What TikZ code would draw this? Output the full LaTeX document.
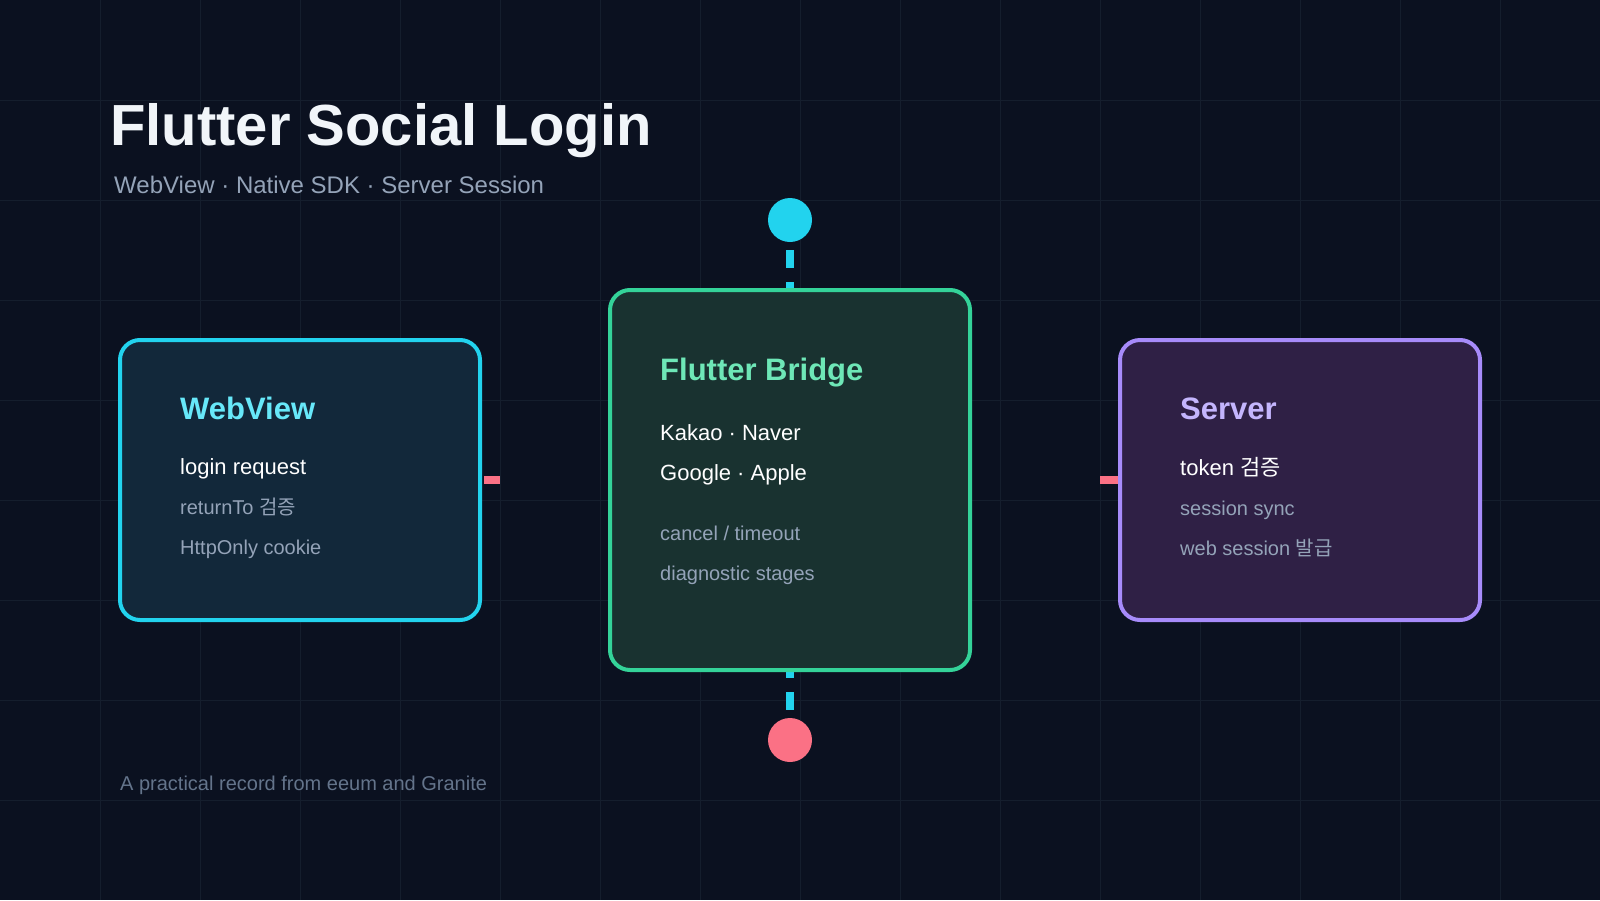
\documentclass[tikz,border=0pt]{standalone}
\usepackage{fontspec}
\setmainfont{Liberation Sans}
\newfontfamily\kr{Noto Sans CJK KR}
\usetikzlibrary{backgrounds}
\definecolor{slBack}{HTML}{0B1120}
\definecolor{slGrid}{HTML}{151E2D}
\definecolor{slTitle}{HTML}{F1F5F9}
\definecolor{slMuted}{HTML}{94A3B8}
\definecolor{slFoot}{HTML}{64748B}
\definecolor{slCyan}{HTML}{22D3EE}
\definecolor{slCyanText}{HTML}{67E8F9}
\definecolor{slCyanFill}{HTML}{12283A}
\definecolor{slGreen}{HTML}{34D399}
\definecolor{slGreenText}{HTML}{6EE7B7}
\definecolor{slGreenFill}{HTML}{193230}
\definecolor{slViolet}{HTML}{A78BFA}
\definecolor{slVioletText}{HTML}{C4B5FD}
\definecolor{slVioletFill}{HTML}{2F2045}
\definecolor{slRose}{HTML}{FB7185}
\tikzset{
  sl grid/.style={draw=slGrid, line width=1pt},
  sl card/.style={rounded corners=20pt, line width=4pt, inner sep=0pt, outer sep=0pt, anchor=north west},
  sl head/.style={anchor=base west, inner sep=0pt, font=\fontsize{31}{37}\selectfont\bfseries},
  sl main/.style={anchor=base west, inner sep=0pt, text=white, font=\fontsize{22}{26}\selectfont},
  sl note/.style={anchor=base west, inner sep=0pt, text=slMuted, font=\fontsize{20}{24}\selectfont},
  sl dot/.style={circle, inner sep=0pt, outer sep=0pt, minimum size=44pt},
  sl link/.style={draw=slCyan, line width=8pt, dash pattern=on 18pt off 14pt},
  sl stub/.style={draw=slRose, line width=8pt},
}

\begin{document}
\begin{tikzpicture}[x=1pt, y=-1pt]
  \useasboundingbox (0,0) rectangle (1600,900);
  % Heading
  \node[anchor=base west, inner sep=0pt, text=slTitle, font=\fontsize{58}{70}\selectfont\bfseries] (title) at (110,145) {Flutter Social Login};
  \node[anchor=base west, inner sep=0pt, text=slMuted, font=\fontsize{24}{29}\selectfont] (subtitle) at (114,193) {WebView · Native SDK · Server Session};
  % Cards
  \node[sl card, draw=slCyan, fill=slCyanFill, minimum width=360pt, minimum height=280pt] (web) at (120,340) {};
  \node[sl card, draw=slGreen, fill=slGreenFill, minimum width=360pt, minimum height=380pt] (bridge) at (610,290) {};
  \node[sl card, draw=slViolet, fill=slVioletFill, minimum width=360pt, minimum height=280pt] (server) at (1120,340) {};
  % End points above and below the bridge
  \node[sl dot, fill=slCyan] (start) at (790,220) {};
  \node[sl dot, fill=slRose] (finish) at (790,740) {};
  % WebView card
  \node[sl head, text=slCyanText] (webhead) at (180,419) {WebView};
  \node[sl main] (webmain) at (180,474) {login request};
  \foreach \y/\t in {514/{returnTo {\kr 검증}}, 554/{HttpOnly cookie}}
    \node[sl note] (webnote-\y) at (180,\y) {\t};
  % Flutter Bridge card
  \node[sl head, text=slGreenText] (bridgehead) at (660,380) {Flutter Bridge};
  \foreach \y/\t in {440/{Kakao · Naver}, 480/{Google · Apple}}
    \node[sl main] (bridgemain-\y) at (660,\y) {\t};
  \foreach \y/\t in {540/{cancel / timeout}, 580/{diagnostic stages}}
    \node[sl note] (bridgenote-\y) at (660,\y) {\t};
  % Server card
  \node[sl head, text=slVioletText] (serverhead) at (1180,419) {Server};
  \node[sl main] (servermain) at (1180,475) {token {\kr 검증}};
  \foreach \y/\t in {515/{session sync}, 555/{web session {\kr 발급}}}
    \node[sl note] (servernote-\y) at (1180,\y) {\t};
  % Footer
  \node[anchor=base west, inner sep=0pt, text=slFoot, font=\fontsize{20}{24}\selectfont] (footer) at (120,790) {A practical record from eeum and Granite};
  % Short rose stubs beside the outer cards
  \draw[sl stub, shorten <=4pt, shorten >=110pt] (web) -- (bridge);
  \draw[sl stub, shorten <=2pt, shorten >=130pt] (server) -- (bridge);
  % Backdrop, grid and dashed links, all behind the cards
  \begin{scope}[on background layer]
    \fill[slBack] (0,0) rectangle (1600,900);
    \foreach \gx in {100,200,...,1500} \draw[sl grid] (\gx,0) -- (\gx,900);
    \foreach \gy in {100,200,...,800} \draw[sl grid] (0,\gy) -- (1600,\gy);
    \draw[sl link, shorten <=8pt, shorten >=-10pt] (start) -- (bridge);
    \draw[sl link, shorten <=-10pt, shorten >=8pt] (bridge) -- (finish);
  \end{scope}
\end{tikzpicture}
\end{document}
